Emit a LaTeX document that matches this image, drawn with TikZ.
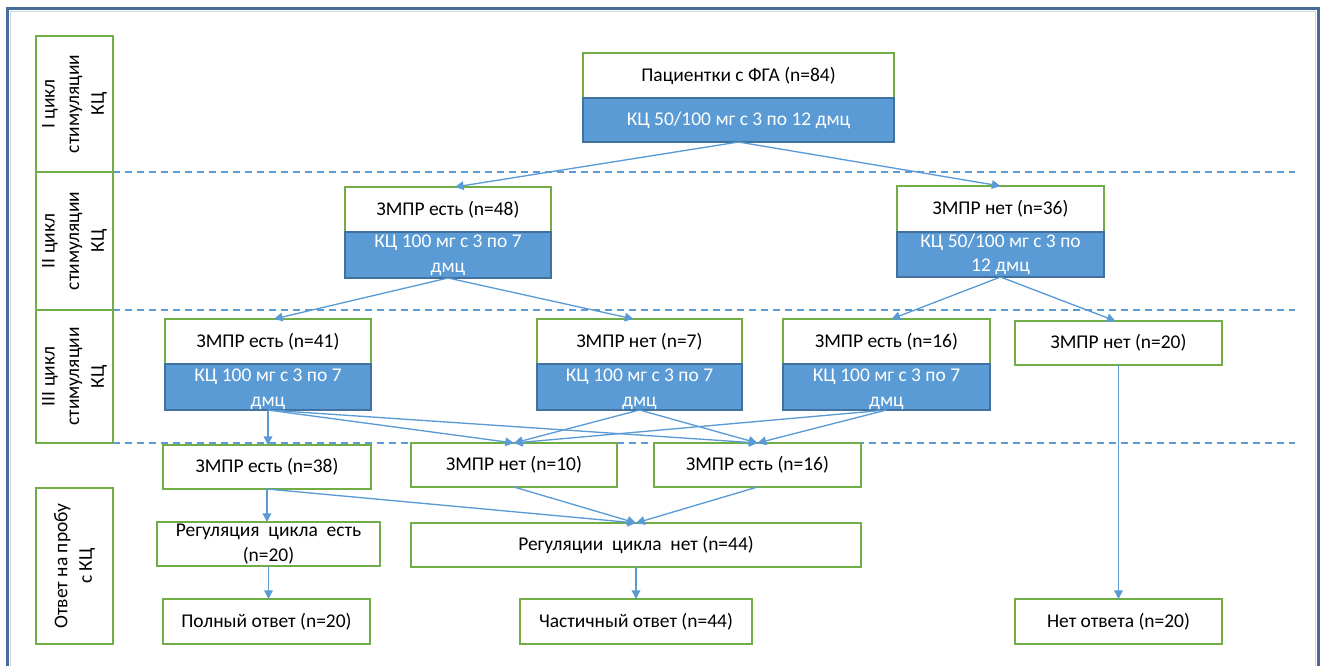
\documentclass[tikz,border=0pt]{standalone}
\usepackage{fontspec}
\setmainfont{Carlito}
\usetikzlibrary{arrows.meta,fit,calc}
\definecolor{grn}{RGB}{112,173,71}
\definecolor{bfill}{RGB}{91,155,213}
\definecolor{bdraw}{RGB}{65,113,156}
\definecolor{frm}{RGB}{71,108,152}
\definecolor{frml}{RGB}{205,218,232}
\tikzset{
  wbox/.style={draw=grn, line width=1.1pt, fill=white, inner sep=0pt, outer sep=0pt},
  bbox/.style={draw=bdraw, line width=0.8pt, fill=bfill, inner sep=0pt, outer sep=0pt},
  wtxt/.style={inner sep=0pt, align=center, text=black, font=\fontsize{14.6pt}{18.5pt}\selectfont},
  btxt/.style={inner sep=0pt, align=center, text=white, font=\fontsize{14.6pt}{18.5pt}\selectfont},
  conn/.style={draw=bfill, line width=1pt, -{Triangle[length=6.5pt,width=6.5pt]}},
  sep/.style={draw=bfill, line width=1pt, dash pattern=on 5.5pt off 3.5pt},
}
\begin{document}
\begin{tikzpicture}[x=0.75pt,y=-0.75pt]
\useasboundingbox (0,0) rectangle (1327,666);
% frame
\draw[frm, line width=2.4pt] (7.5,670) -- (7.5,8.5) -- (1318.5,8.5) -- (1318.5,670);
\draw[frml, line width=0.6pt] (10.5,670) -- (10.5,11.5) -- (1315.5,11.5) -- (1315.5,670);
% left labels
\node[wbox, fit={(36,36) (113,172)}] (L1) {};
\node[wtxt, rotate=90] at (L1.center) {I цикл\\стимуляции\\КЦ};
\node[wbox, fit={(36,172) (113,310)}] (L2) {};
\node[wtxt, rotate=90] at (L2.center) {II цикл\\стимуляции\\КЦ};
\node[wbox, fit={(36,310) (113,443)}] (L3) {};
\node[wtxt, rotate=90] at (L3.center) {III цикл\\стимуляции\\КЦ};
\node[wbox, fit={(36,488) (113,644)}] (L4) {};
\node[wtxt, rotate=90] at (L4.center) {Ответ на пробу\\с КЦ};
% separators
\draw[sep] (L1.south east) -- ++(1182,0);
\draw[sep] (L2.south east) -- ++(1182,0);
\draw[sep] (L3.south east) -- ++(1182,0);
% level I
\node[wbox, fit={(583,53) (894,98)}] (n0w) {};
\node[wtxt] at (n0w.center) {Пациентки с ФГА (n=84)};
\node[bbox, fit={(583,98) (894,142)}] (n0b) {};
\node[btxt] at (n0b.center) {КЦ 50/100 мг с 3 по 12 дмц};
% level II
\node[wbox, fit={(345,187) (551,232)}] (n1w) {};
\node[wtxt] at (n1w.center) {ЗМПР есть (n=48)};
\node[bbox, fit={(345,232) (551,278)}] (n1b) {};
\node[btxt] at (n1b.center) {КЦ 100 мг с 3 по 7\\дмц};
\node[wbox, fit={(897,186) (1104,232)}] (n2w) {};
\node[wtxt] at (n2w.center) {ЗМПР нет (n=36)};
\node[bbox, fit={(897,232) (1104,277)}] (n2b) {};
\node[btxt] at (n2b.center) {КЦ 50/100 мг с 3 по\\12 дмц};
% level III
\node[wbox, fit={(165,319) (371,364)}] (n3w) {};
\node[wtxt] at (n3w.center) {ЗМПР есть (n=41)};
\node[bbox, fit={(165,364) (371,410)}] (n3b) {};
\node[btxt] at ($(n3b.center)+(0,2)$) {КЦ 100 мг с 3 по 7\\дмц};
\node[wbox, fit={(537,319) (742,364)}] (n4w) {};
\node[wtxt] at (n4w.center) {ЗМПР нет (n=7)};
\node[bbox, fit={(537,364) (742,410)}] (n4b) {};
\node[btxt] at ($(n4b.center)+(0,2)$) {КЦ 100 мг с 3 по 7\\дмц};
\node[wbox, fit={(783,319) (990,364)}] (n5w) {};
\node[wtxt] at (n5w.center) {ЗМПР есть (n=16)};
\node[bbox, fit={(783,364) (990,410)}] (n5b) {};
\node[btxt] at ($(n5b.center)+(0,2)$) {КЦ 100 мг с 3 по 7\\дмц};
\node[wbox, fit={(1015,321) (1222,365)}] (n6) {};
\node[wtxt] at (n6.center) {ЗМПР нет (n=20)};
% results row
\node[wbox, fit={(163,445) (371,489)}] (r1) {};
\node[wtxt] at (r1.center) {ЗМПР есть (n=38)};
\node[wbox, fit={(411,443) (617,487)}] (r2) {};
\node[wtxt] at (r2.center) {ЗМПР нет (n=10)};
\node[wbox, fit={(654,443) (861,487)}] (r3) {};
\node[wtxt] at (r3.center) {ЗМПР есть (n=16)};
% regulation
\node[wbox, fit={(157,522) (380,566)}] (g1) {};
\node[wtxt] at (g1.center) {Регуляция\ \ цикла\ \ есть\\(n=20)};
\node[wbox, fit={(411,523) (861,567)}] (g2) {};
\node[wtxt] at (g2.center) {Регуляции\ \ цикла\ \ нет (n=44)};
% final
\node[wbox, fit={(163,599) (370,644)}] (f1) {};
\node[wtxt] at (f1.center) {Полный ответ (n=20)};
\node[wbox, fit={(520,599) (752,644)}] (f2) {};
\node[wtxt] at (f2.center) {Частичный ответ (n=44)};
\node[wbox, fit={(1015,599) (1222,644)}] (f3) {};
\node[wtxt] at (f3.center) {Нет ответа (n=20)};
% connectors
\draw[conn] (n0b.south) -- ($(n1w.north)+(7,0)$);
\draw[conn] (n0b.south) -- (n2w.north);
\draw[conn] (n1b.south) -- ($(n3w.north)+(6,0)$);
\draw[conn] (n1b.south) -- ($(n4w.north)+(-6,0)$);
\draw[conn] (n2b.south) -- ($(n5w.north)+(5,0)$);
\draw[conn] (n2b.south) -- ($(n6.north)+(-3,0)$);
\draw[conn] (n3b.south) -- (n3b.south |- r1.north);
\draw[conn] (n3b.south) -- (r2.north);
\draw[conn] (n3b.south) -- (r3.north);
\draw[conn] (n4b.south) -- (r2.north);
\draw[conn] (n4b.south) -- (r3.north);
\draw[conn] (n5b.south) -- (r2.north);
\draw[conn] (n5b.south) -- (r3.north);
\draw[conn] (n6.south) -- (n6.south |- f3.north);
\draw[conn] (r1.south) -- (r1.south |- g1.north);
\draw[conn] (r1.south) -- (g2.north);
\draw[conn] (r2.south) -- (g2.north);
\draw[conn] (r3.south) -- (g2.north);
\draw[conn] (g1.south) -- (g1.south |- f1.north);
\draw[conn] (g2.south) -- (g2.south |- f2.north);
\end{tikzpicture}
\end{document}
